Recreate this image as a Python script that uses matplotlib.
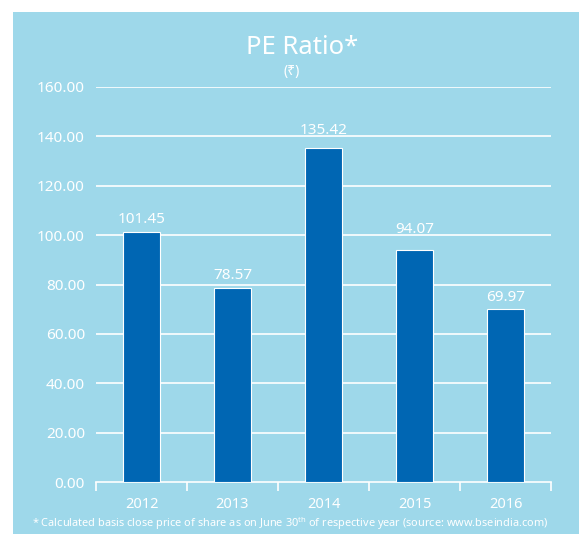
import matplotlib
matplotlib.use("Agg")
import matplotlib.pyplot as plt
from matplotlib.patches import Rectangle

years = ["2012", "2013", "2014", "2015", "2016"]
pe_ratio = [101.45, 78.57, 135.42, 94.07, 69.97]
yticks = [0, 20, 40, 60, 80, 100, 120, 140, 160]

plt.rcParams['font.family'] = ['Noto Sans', 'DejaVu Sans']
plt.rcParams['mathtext.fontset'] = 'custom'
plt.rcParams['mathtext.rm'] = 'Noto Sans'

BG = '#9ED8EA'
BAR = '#0066B3'
W, H = 579, 534
fig = plt.figure(figsize=(W/100, H/100), dpi=100)
fig.patches.append(Rectangle((13/W, 0), 1 - 13/W, 1 - 12/H, transform=fig.transFigure,
                             facecolor=BG, edgecolor='none', zorder=-10))

ax = fig.add_axes([96/W, 1 - 482/H, 455/W, 395/H])
ax.set_facecolor('none')
x = list(range(len(years)))
bars = ax.bar(x, pe_ratio, width=0.4, color=BAR, edgecolor='white', linewidth=0.8, zorder=3)
for xi, v in zip(x, pe_ratio):
    base = v + 3.5
    for g in yticks:
        if base - 0.5 < g < base + 5:
            base = g + 1.0
    ax.text(xi, base, f"{v:.2f}", ha='center', va='baseline', color='white',
            fontsize=11, zorder=5)

ax.set_xlim(-0.5, 4.5)
ax.set_ylim(0, 160)
ax.set_yticks(yticks)
ax.set_yticklabels([f"{t:.2f}" for t in yticks], color='white', fontsize=11)
for t in yticks[1:]:
    ax.axhline(t, color='white', lw=1.2, zorder=1)
ax.set_xticks(x)
ax.set_xticklabels(years, color='white', fontsize=10.5)
ax.set_xticks([i - 0.5 for i in range(len(years) + 1)], minor=True)
ax.tick_params(axis='x', which='major', length=0, pad=11)
ax.tick_params(axis='x', which='minor', length=6.5, color='white', width=1.2, direction='out')
ax.tick_params(axis='y', length=0, pad=8)
for s in ['left', 'right', 'top']:
    ax.spines[s].set_visible(False)
ax.spines['bottom'].set_color('white')
ax.spines['bottom'].set_linewidth(1.2)

fig.text(302/W, 1 - 54/H, "PE Ratio*", ha='center', va='baseline', color='white', fontsize=18.5)
fig.text(292/W, 1 - 71.5/H, "(₹)", ha='center', va='center', color='white', fontsize=10)
fig.text(290/W, 1 - 524/H,
         r"* Calculated basis close price of share as on June 30$^{\mathregular{th}}$ of respective year (source: www.bseindia.com)",
         ha='center', va='center', color='white', fontsize=7.9)

fig.savefig("out.png", dpi=100, facecolor='white')
